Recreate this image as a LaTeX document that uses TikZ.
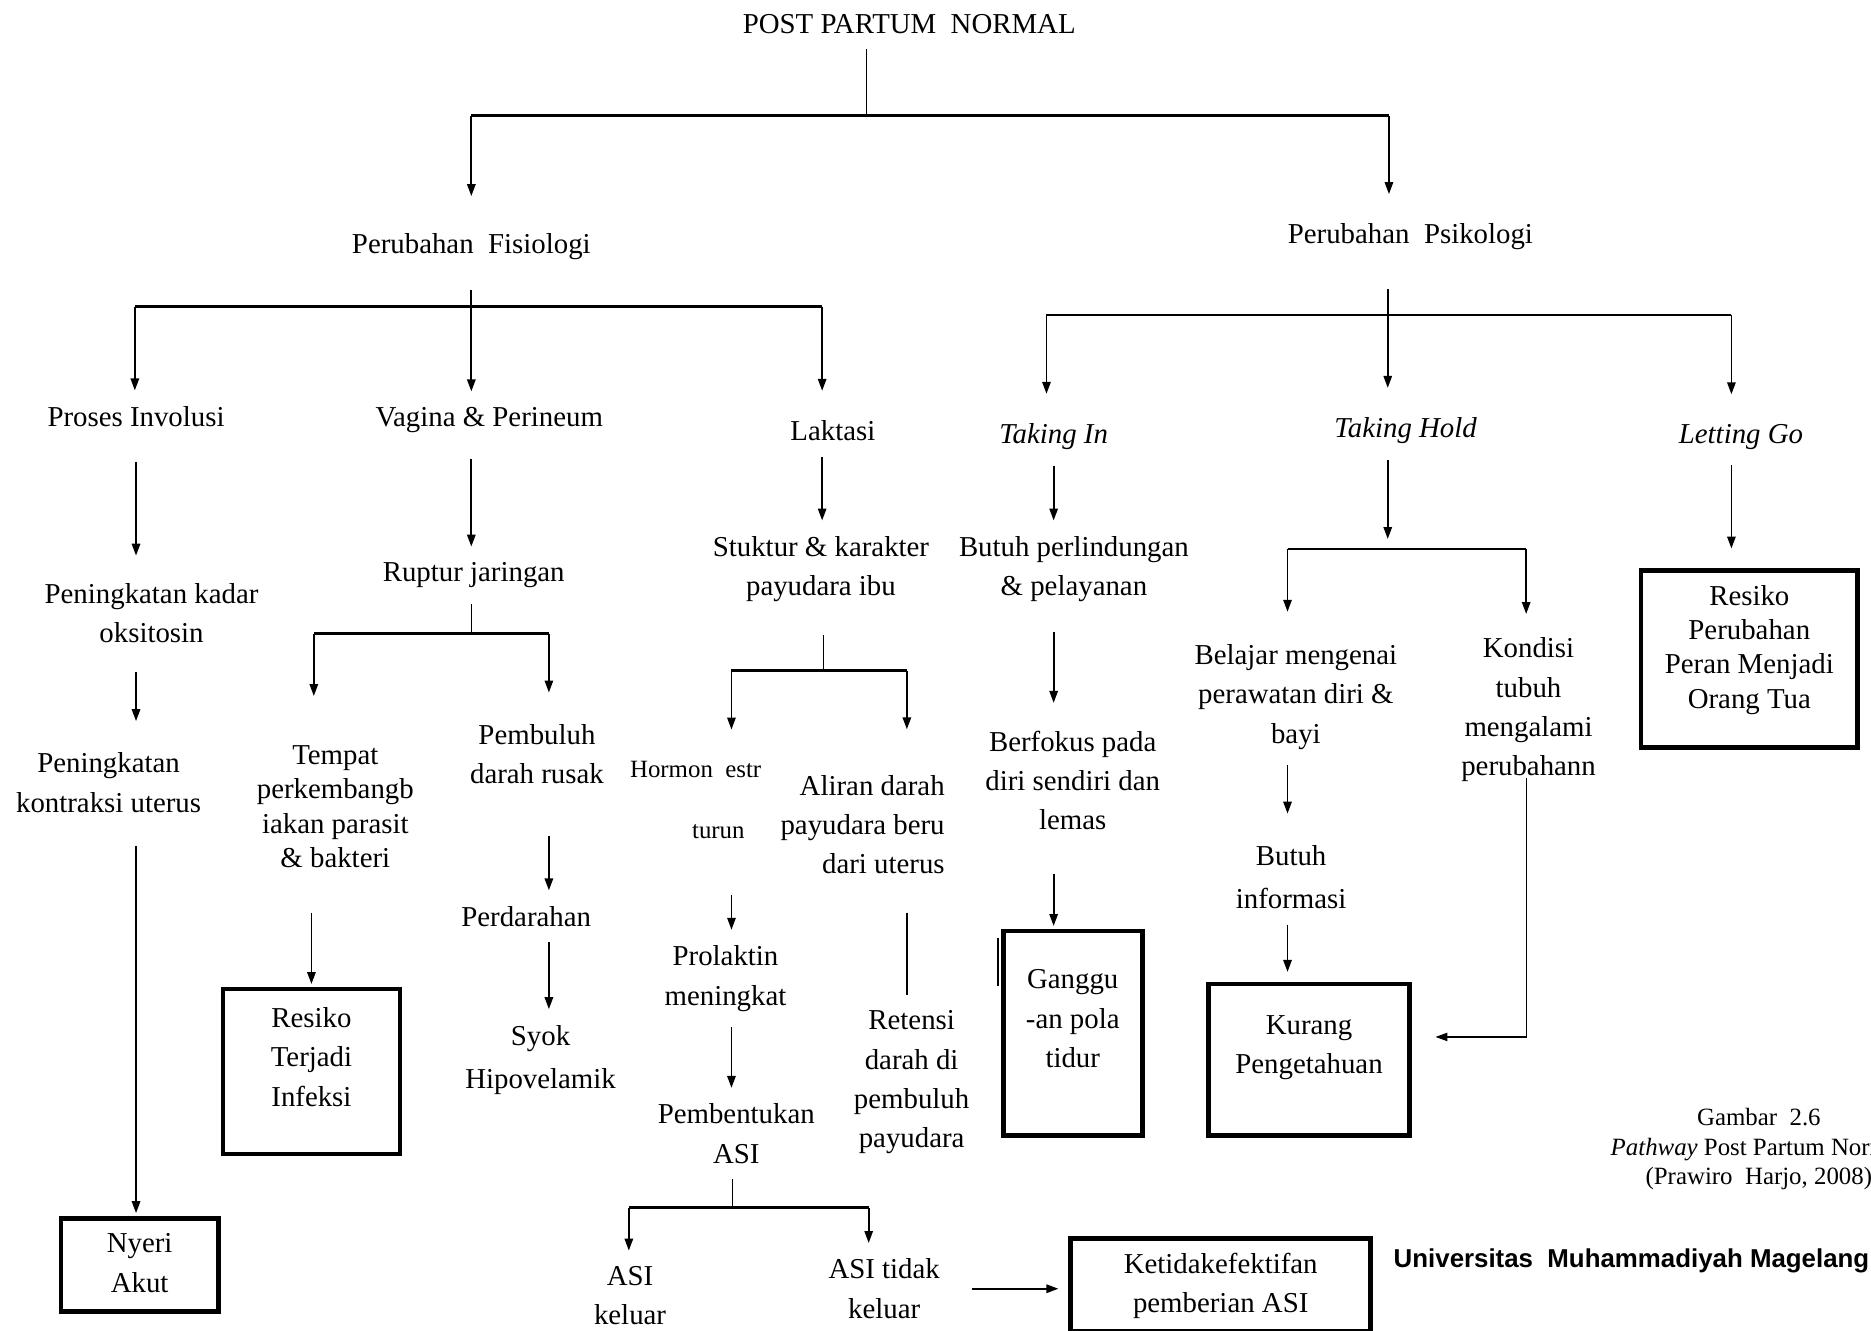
\documentclass[tikz,border=0pt]{standalone}
\usepackage{fontspec}
\setmainfont{Liberation Serif}
\newfontfamily\univfont{Liberation Sans}
\usetikzlibrary{arrows.meta}

\newcommand\mainsize{\fontsize{14.5pt}{19.8pt}\selectfont}
\newcommand\tightsize{\fontsize{14.5pt}{17.2pt}\selectfont}
\newcommand\widesize{\fontsize{14.5pt}{21.6pt}\selectfont}
\newcommand\smallsize{\fontsize{12.5pt}{15pt}\selectfont}
\newcommand\univsize{\univfont\bfseries\fontsize{13pt}{15pt}\selectfont}

\begin{document}
\begin{tikzpicture}[x=0.6pt, y=-0.6pt,
    txt/.style={align=center, font=\mainsize, inner sep=0pt, outer sep=8pt},
    box/.style={draw, line width=2.4pt, align=center, font=\mainsize, inner sep=0pt, outer sep=2.5pt, text depth=15pt},
    arr/.style={-{Triangle[length=6pt,width=4.2pt]}, line width=0.9pt},
    bar/.style={line width=1.3pt},
    stem/.style={line width=0.6pt}]
    \useasboundingbox (0,0) rectangle (1568,1115);
    \clip (0,0) rectangle (1568,1115);

    % top levels
    \node[txt] (root) at (762,20) {POST PARTUM\ \ NORMAL};
    \node[txt] (fis) at (395,207) {Perubahan\ \ Fisiologi};
    \node[txt] (psi) at (1182,198) {Perubahan\ \ Psikologi};
    \node[txt] (inv) at (114,349) {Proses Involusi};
    \node[txt] (vag) at (410,352) {Vagina \& Perineum};
    \node[txt] (lak) at (698,361) {Laktasi};
    \node[txt] (tin) at (883,366) {\textit{Taking In}};
    \node[txt] (thd) at (1178,361) {\textit{Taking Hold}};
    \node[txt] (lgo) at (1459,366) {\textit{Letting Go}};

    % fisiologi
    \node[txt] (oks) at (127,514) {Peningkatan kadar\\oksitosin};
    \node[txt] (kon) at (91,656) {Peningkatan\\kontraksi uterus};
    \node[box, minimum width=79pt, minimum height=47pt, text depth=2pt] (nyeri) at (117,1060) {Nyeri\\Akut};
    \node[txt] (rup) at (397,482) {Ruptur jaringan};
    \node[txt, font=\tightsize] (tem) at (281,676) {Tempat\\perkembangb\\iakan parasit\\\& bakteri};
    \node[txt] (pem) at (450,632) {Pembuluh\\darah rusak};
    \node[txt] (per) at (441,768) {Perdarahan};
    \node[txt, font=\widesize] (syk) at (453,888) {Syok\\Hipovelamik};
    \node[box, minimum width=89pt, minimum height=83pt] (inf) at (261,898) {Resiko\\Terjadi\\Infeksi};
    \node[txt] (stu) at (688,477) {Stuktur \& karakter\\payudara ibu};
    \node[txt, font=\smallsize] (hor) at (583,645) {Hormon\ \ estr};
    \node[txt, font=\smallsize] (hort) at (602,697) {turun};
    \node[txt, align=right, anchor=east] (ali) at (805,691) {Aliran darah\\payudara beru\\dari uterus};
    \node[txt] (pro) at (608,820) {Prolaktin\\meningkat};
    \node[txt] (pbt) at (617,950) {Pembentukan\\ASI};
    \node[txt] (ret) at (764,907) {Retensi\\darah di\\pembuluh\\payudara};
    \node[txt] (ask) at (528,1086) {ASI\\keluar};
    \node[txt] (atk) at (741,1080) {ASI tidak\\keluar};
    \node[box, minimum width=151pt, minimum height=47pt, text depth=2pt] (ket) at (1023,1077) {Ketidakefektifan\\pemberian ASI};

    % psikologi
    \node[txt] (bpl) at (900,477) {Butuh perlindungan\\\& pelayanan};
    \node[txt] (bfk) at (899,654) {Berfokus pada\\diri sendiri dan\\lemas};
    \node[box, minimum width=70pt, minimum height=103pt] (gng) at (899,866) {Ganggu\\-an pola\\tidur};
    \node[txt] (bel) at (1086,584) {Belajar mengenai\\perawatan diri \&\\bayi};
    \node[txt, font=\widesize] (bin) at (1082,735) {Butuh\\informasi};
    \node[box, minimum width=101pt, minimum height=76pt] (kur) at (1097,888) {Kurang\\Pengetahuan};
    \node[txt] (kond) at (1281,595) {Kondisi\\tubuh\\mengalami\\perubahann};
    \node[box, font=\tightsize, text depth=12pt, minimum width=109pt, minimum height=89pt] (rpo) at (1466,552) {Resiko\\Perubahan\\Peran Menjadi\\Orang Tua};

    % caption
    \node[txt, font=\smallsize] (cap) at (1474,963) {Gambar\ \ 2.6\\\textit{Pathway} Post Partum Normal\\(Prawiro\ \ Harjo, 2008)};
    \node[txt, font=\univsize, anchor=west, outer sep=0pt] (univ) at (1168,1057) {Universitas\ \ Muhammadiyah Magelang};

    % junctions
    \coordinate (j1) at (726,97);
    \coordinate (j1l) at (395,97);
    \coordinate (j1r) at (1164,97);
    \coordinate (j2l) at (113,257);
    \coordinate (j2r) at (689,257);
    \coordinate (j3) at (1163,264);
    \coordinate (j3l) at (877,264);
    \coordinate (j3r) at (1451,264);
    \coordinate (j4) at (395,531);
    \coordinate (j4l) at (263,531);
    \coordinate (j4r) at (460,531);
    \coordinate (j5) at (690,562);
    \coordinate (j5l) at (613,562);
    \coordinate (j5r) at (760,562);
    \coordinate (j6) at (614,1012);
    \coordinate (j6l) at (527,1012);
    \coordinate (j6r) at (728,1012);
    \coordinate (j7l) at (1079,460);
    \coordinate (j7r) at (1279,460);
    \coordinate (kin) at (1203,869);

    % root
    \draw[stem] (j1 |- root.south) -- (j1);
    \draw[bar] (j1l) -- (j1r);
    \draw[arr, shorten >=11pt] (j1l) -- (j1l |- fis.north);
    \draw[arr, shorten >=6.6pt] (j1r) -- (j1r |- psi.north);

    % fisiologi
    \draw[bar] (j2l) -- (j2r);
    \draw[arr, shorten <=7pt] (fis) -- (fis |- vag.north);
    \draw[arr] (j2l) -- (j2l |- inv.north);
    \draw[arr, shorten >=7pt] (j2r) -- (j2r |- lak.north);

    % psikologi
    \draw[bar] (j3l) -- (j3r);
    \draw[arr, shorten <=12pt, shorten >=7pt] (j3 |- psi.south) -- (j3 |- thd.north);
    \draw[arr, shorten >=7pt] (j3l) -- (j3l |- tin.north);
    \draw[arr, shorten >=7pt] (j3r) -- (j3r |- lgo.north);

    % involusi
    \draw[arr, shorten <=10pt, shorten >=6pt] (inv) -- (inv |- oks.north);
    \draw[arr, shorten <=6.6pt, shorten >=8pt] (inv |- oks.south) -- (inv |- kon.north);
    \draw[arr, shorten <=9pt] (inv |- kon.south) -- (inv |- nyeri.north);

    % vagina & perineum
    \draw[arr, shorten <=5pt] (fis |- vag.south) -- (fis |- rup.north);
    \draw[stem] (j4 |- rup.south) -- (j4);
    \draw[bar] (j4l) -- (j4r);
    \draw[arr, shorten >=17pt] (j4l) -- (j4l |- tem.north);
    \draw[arr, shorten >=8pt] (j4r) -- (j4r |- pem.north);
    \draw[arr, shorten <=15pt] (tem.south -| inf) -- (inf);
    \draw[arr, shorten <=18pt] (j4r |- pem.south) -- (j4r |- per.north);
    \draw[arr] (j4r |- per.south) -- (j4r |- syk.north);

    % laktasi
    \draw[arr] (j2r |- lak.south) -- (j2r |- stu.north);
    \draw[stem, shorten <=8.7pt] (j5 |- stu.south) -- (j5);
    \draw[bar] (j5l) -- (j5r);
    \draw[arr, shorten >=8pt] (j5l) -- (j5l |- hor.north);
    \draw[arr, shorten >=15pt] (j5r) -- (j5r |- ali.north);
    \draw[arr, shorten <=20pt] (j5l |- hort.south) -- (j5l |- pro.north);
    \draw[arr] (j5l |- pro.south) -- (j5l |- pbt.north);
    \draw[stem] (j6 |- pbt.south) -- (j6);
    \draw[bar] (j6l) -- (j6r);
    \draw[arr] (j6l) -- (j6l |- ask.north);
    \draw[arr] (j6r) -- (j6r |- atk.north);
    \draw[arr, shorten <=8pt, shorten >=3.6pt] (atk) -- (atk -| ket.west);
    \draw[line width=0.9pt, shorten <=11.4pt] (j5r |- ali.south) -- (j5r |- ret.north);

    % taking in
    \draw[arr] (tin) -- (tin |- bpl.north);
    \draw[arr, shorten <=7pt, shorten >=6pt] (tin |- bpl.south) -- (tin |- bfk.north);
    \draw[arr, shorten <=14pt] (tin |- bfk.south) -- (tin |- gng.north);
    \draw[line width=1.2pt] ([yshift=-6pt]gng.north west) -- ([yshift=-30pt]gng.north west);

    % taking hold
    \draw[bar] (j7l) -- (j7r);
    \draw[arr, shorten >=5pt] (j3 |- thd.south) -- (j3 |- j7l);
    \draw[arr, shorten >=8.4pt] (j7l) -- (j7l |- bel.north);
    \draw[arr, shorten >=4pt] (j7r) -- (j7r |- kond.north);
    \draw[arr, shorten >=8pt] (j7l |- bel.south) -- (j7l |- bin.north);
    \draw[arr, shorten >=3.6pt] (j7l |- bin.south) -- (j7l |- kur.north);
    \draw[arr, stem, shorten <=-10pt] (j7r |- kond.south) |- (kin);

    % letting go
    \draw[arr, shorten >=8.4pt] (j3r |- lgo.south) -- (j3r |- rpo.north);
\end{tikzpicture}
\end{document}
